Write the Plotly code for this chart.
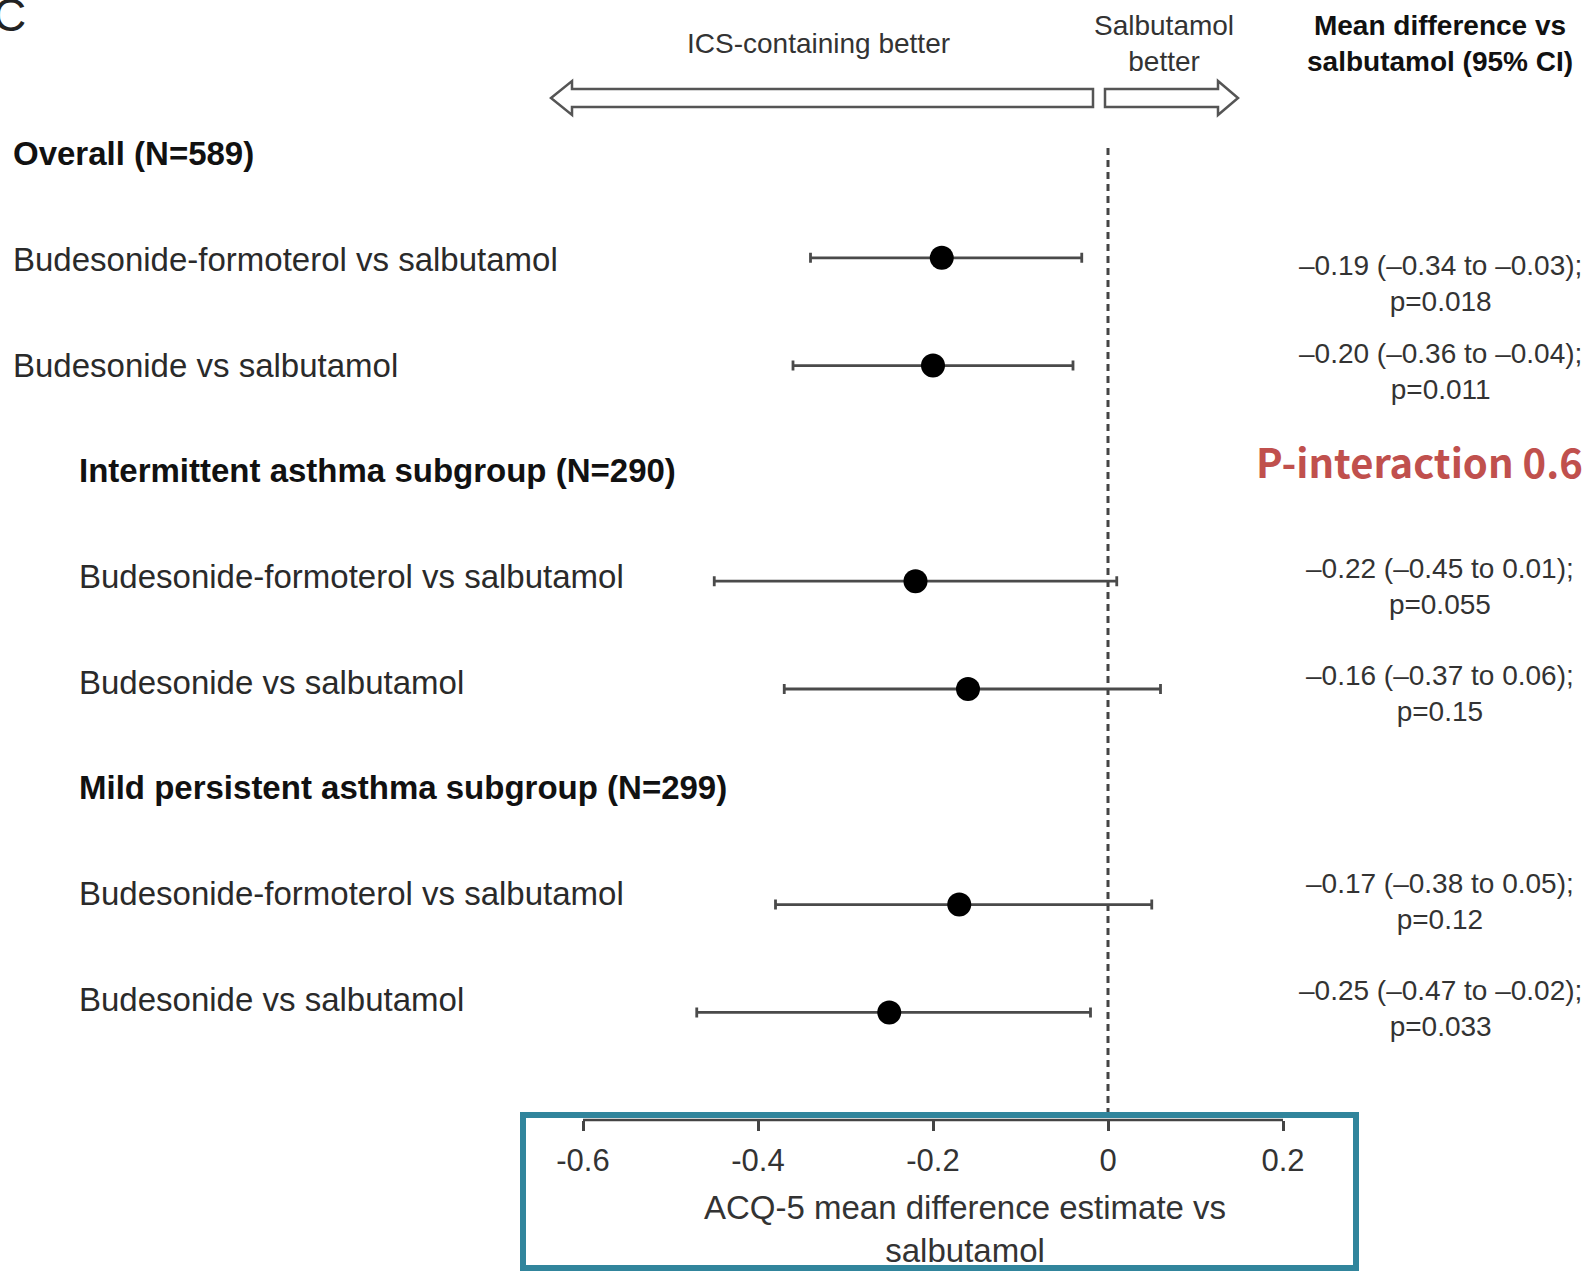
import plotly.graph_objects as go

# ---------------- data ----------------
row_labels = [
    "Overall (N=589)",
    "Budesonide-formoterol vs salbutamol",
    "Budesonide vs salbutamol",
    "Intermittent asthma subgroup (N=290)",
    "Budesonide-formoterol vs salbutamol",
    "Budesonide vs salbutamol",
    "Mild persistent asthma subgroup (N=299)",
    "Budesonide-formoterol vs salbutamol",
    "Budesonide vs salbutamol",
]
row_is_header = [True, False, False, True, False, False, True, False, False]
row_indent_level = [0, 0, 0, 1, 1, 1, 1, 1, 1]

estimate_rows = [1, 2, 4, 5, 7, 8]
estimates = [-0.19, -0.20, -0.22, -0.16, -0.17, -0.25]
ci_lower = [-0.34, -0.36, -0.45, -0.37, -0.38, -0.47]
ci_upper = [-0.03, -0.04, 0.01, 0.06, 0.05, -0.02]
p_values = ["0.018", "0.011", "0.055", "0.15", "0.12", "0.033"]

x_tick_values = [-0.6, -0.4, -0.2, 0, 0.2]
x_tick_labels = ["-0.6", "-0.4", "-0.2", "0", "0.2"]

axis_title = "ACQ-5 mean difference estimate vs<br>salbutamol"
left_header = "ICS-containing better"
right_header = "Salbutamol<br>better"
column_header = "<b>Mean difference vs<br>salbutamol (95% CI)</b>"
interaction_text = "P-interaction 0.6"
panel_letter = "C"

# ---------------- layout helpers ----------------
W, H = 1584, 1271
M_B = 151
PH = H - M_B  # plot area height (px), plot area spans full width
X0_PX = 1108.0          # pixel of x = 0
PX_PER_UNIT = 875.0
ROW0_PX = 150.0
ROW_STEP = 107.8
LABEL0_PX = 153.6
LABEL_STEP = 105.7

FONT = "Liberation Sans, Arial, Helvetica, sans-serif"


def px_x(px):
    return px / W


def px_y(py):
    return 1 - py / PH


def data_x(px):
    return (px - X0_PX) / PX_PER_UNIT


def fmt(v):
    s = f"{abs(v):.2f}"
    return ("\u2013" + s) if v < 0 else s


ci_text_yshift = [-26, -6, -5, -4, 3, 4]

fig = go.Figure()

fig.add_trace(go.Scatter(
    x=estimates,
    y=estimate_rows,
    mode="markers",
    marker=dict(size=24, color="black"),
    error_x=dict(
        type="data",
        symmetric=False,
        array=[h - e for h, e in zip(ci_upper, estimates)],
        arrayminus=[e - l for e, l in zip(estimates, ci_lower)],
        color="#4a4a4a",
        thickness=2.8,
        width=5,
    ),
    showlegend=False,
    hoverinfo="skip",
))

annotations = []

# row labels
for j, (lab, bold, ind) in enumerate(zip(row_labels, row_is_header, row_indent_level)):
    annotations.append(dict(
        text=f"<b>{lab}</b>" if bold else lab,
        xref="paper", yref="paper",
        x=px_x(11 if ind == 0 else 77), xanchor="left",
        y=px_y(LABEL0_PX + LABEL_STEP * j), yanchor="middle",
        showarrow=False,
        font=dict(family=FONT, size=33, color="#111" if bold else "#2a2a2a"),
    ))

# estimate texts
for r, e, lo, hi, p, ys in zip(estimate_rows, estimates, ci_lower, ci_upper, p_values, ci_text_yshift):
    annotations.append(dict(
        text=f"{fmt(e)} ({fmt(lo)} to {fmt(hi)});<br>p={p}",
        xref="paper", yref="y",
        x=px_x(1440), xanchor="center",
        y=r, yanchor="middle", yshift=ys,
        align="center",
        showarrow=False,
        font=dict(family=FONT, size=28, color="#333"),
    ))

# headers
annotations += [
    dict(text=left_header, xref="paper", yref="paper", x=px_x(818), y=px_y(44),
         xanchor="center", yanchor="middle", showarrow=False,
         font=dict(family=FONT, size=28, color="#333")),
    dict(text=right_header, xref="paper", yref="paper", x=px_x(1164), y=px_y(44),
         xanchor="center", yanchor="middle", showarrow=False, align="center",
         font=dict(family=FONT, size=28, color="#333")),
    dict(text=column_header, xref="paper", yref="paper", x=px_x(1440), y=px_y(44),
         xanchor="center", yanchor="middle", showarrow=False, align="center",
         font=dict(family=FONT, size=28, color="#111")),
    dict(text=axis_title, xref="paper", yref="paper", x=px_x(965), y=px_y(1229),
         xanchor="center", yanchor="middle", showarrow=False, align="center",
         font=dict(family=FONT, size=33, color="#333")),
    dict(text=f"<b>{interaction_text}</b>", xref="paper", yref="paper", x=px_x(1254), y=px_y(461),
         xanchor="left", yanchor="middle", showarrow=False,
         font=dict(family="Noto Sans CJK KR, Noto Sans, sans-serif", size=40, color="#C0504D")),
    dict(text=panel_letter, xref="paper", yref="paper", x=px_x(-9), y=px_y(15),
         xanchor="left", yanchor="middle", showarrow=False,
         font=dict(family=FONT, size=46, color="#222")),
]

# arrows
def arrow_path(tail_px, base_px, tip_px, cy=98, shaft=9, head=17):
    t, b, p = data_x(tail_px), data_x(base_px), data_x(tip_px)
    st, sb = px_y(cy - shaft), px_y(cy + shaft)
    ht, hb = px_y(cy - head), px_y(cy + head)
    c = px_y(cy)
    return (f"M {t},{st} L {b},{st} L {b},{ht} L {p},{c} L {b},{hb} "
            f"L {b},{sb} L {t},{sb} Z")


shapes = [
    dict(type="path", xref="x", yref="paper", path=arrow_path(1093, 572, 551),
         line=dict(color="#555", width=2.5), fillcolor="white"),
    dict(type="path", xref="x", yref="paper", path=arrow_path(1105, 1218, 1238),
         line=dict(color="#555", width=2.5), fillcolor="white"),
    # reference line at zero
    dict(type="line", xref="x", yref="paper", x0=0, x1=0, y0=px_y(148), y1=0,
         line=dict(color="#444", width=3, dash="7px,5px"), layer="below"),
    # axis line
    dict(type="line", xref="x", yref="paper", x0=x_tick_values[0], x1=x_tick_values[-1], y0=0, y1=0,
         line=dict(color="#444", width=2.5)),
    # highlight box
    dict(type="rect", xref="paper", yref="paper",
         x0=px_x(523), x1=px_x(1356), y0=px_y(1115), y1=px_y(1268),
         line=dict(color="#31859C", width=6), fillcolor="rgba(0,0,0,0)"),
]

fig.update_layout(
    width=W, height=H,
    margin=dict(l=0, r=0, t=0, b=M_B),
    paper_bgcolor="white", plot_bgcolor="white",
    showlegend=False,
    annotations=annotations,
    shapes=shapes,
    xaxis=dict(
        range=[data_x(0), data_x(W)],
        showgrid=False, zeroline=False, showline=False,
        tickmode="array", tickvals=x_tick_values, ticktext=x_tick_labels,
        ticks="outside", ticklen=10, tickwidth=2.5, tickcolor="#444",
        tickfont=dict(family=FONT, size=31, color="#333"),
        ticklabelstandoff=3,
    ),
    yaxis=dict(
        range=[(PH - ROW0_PX) / ROW_STEP, -ROW0_PX / ROW_STEP],
        visible=False, showgrid=False, zeroline=False,
    ),
)

fig.write_html(
    "out.html",
    config={"displayModeBar": False},
    post_script="document.body.style.margin='0px';document.body.style.overflow='hidden';",
)
